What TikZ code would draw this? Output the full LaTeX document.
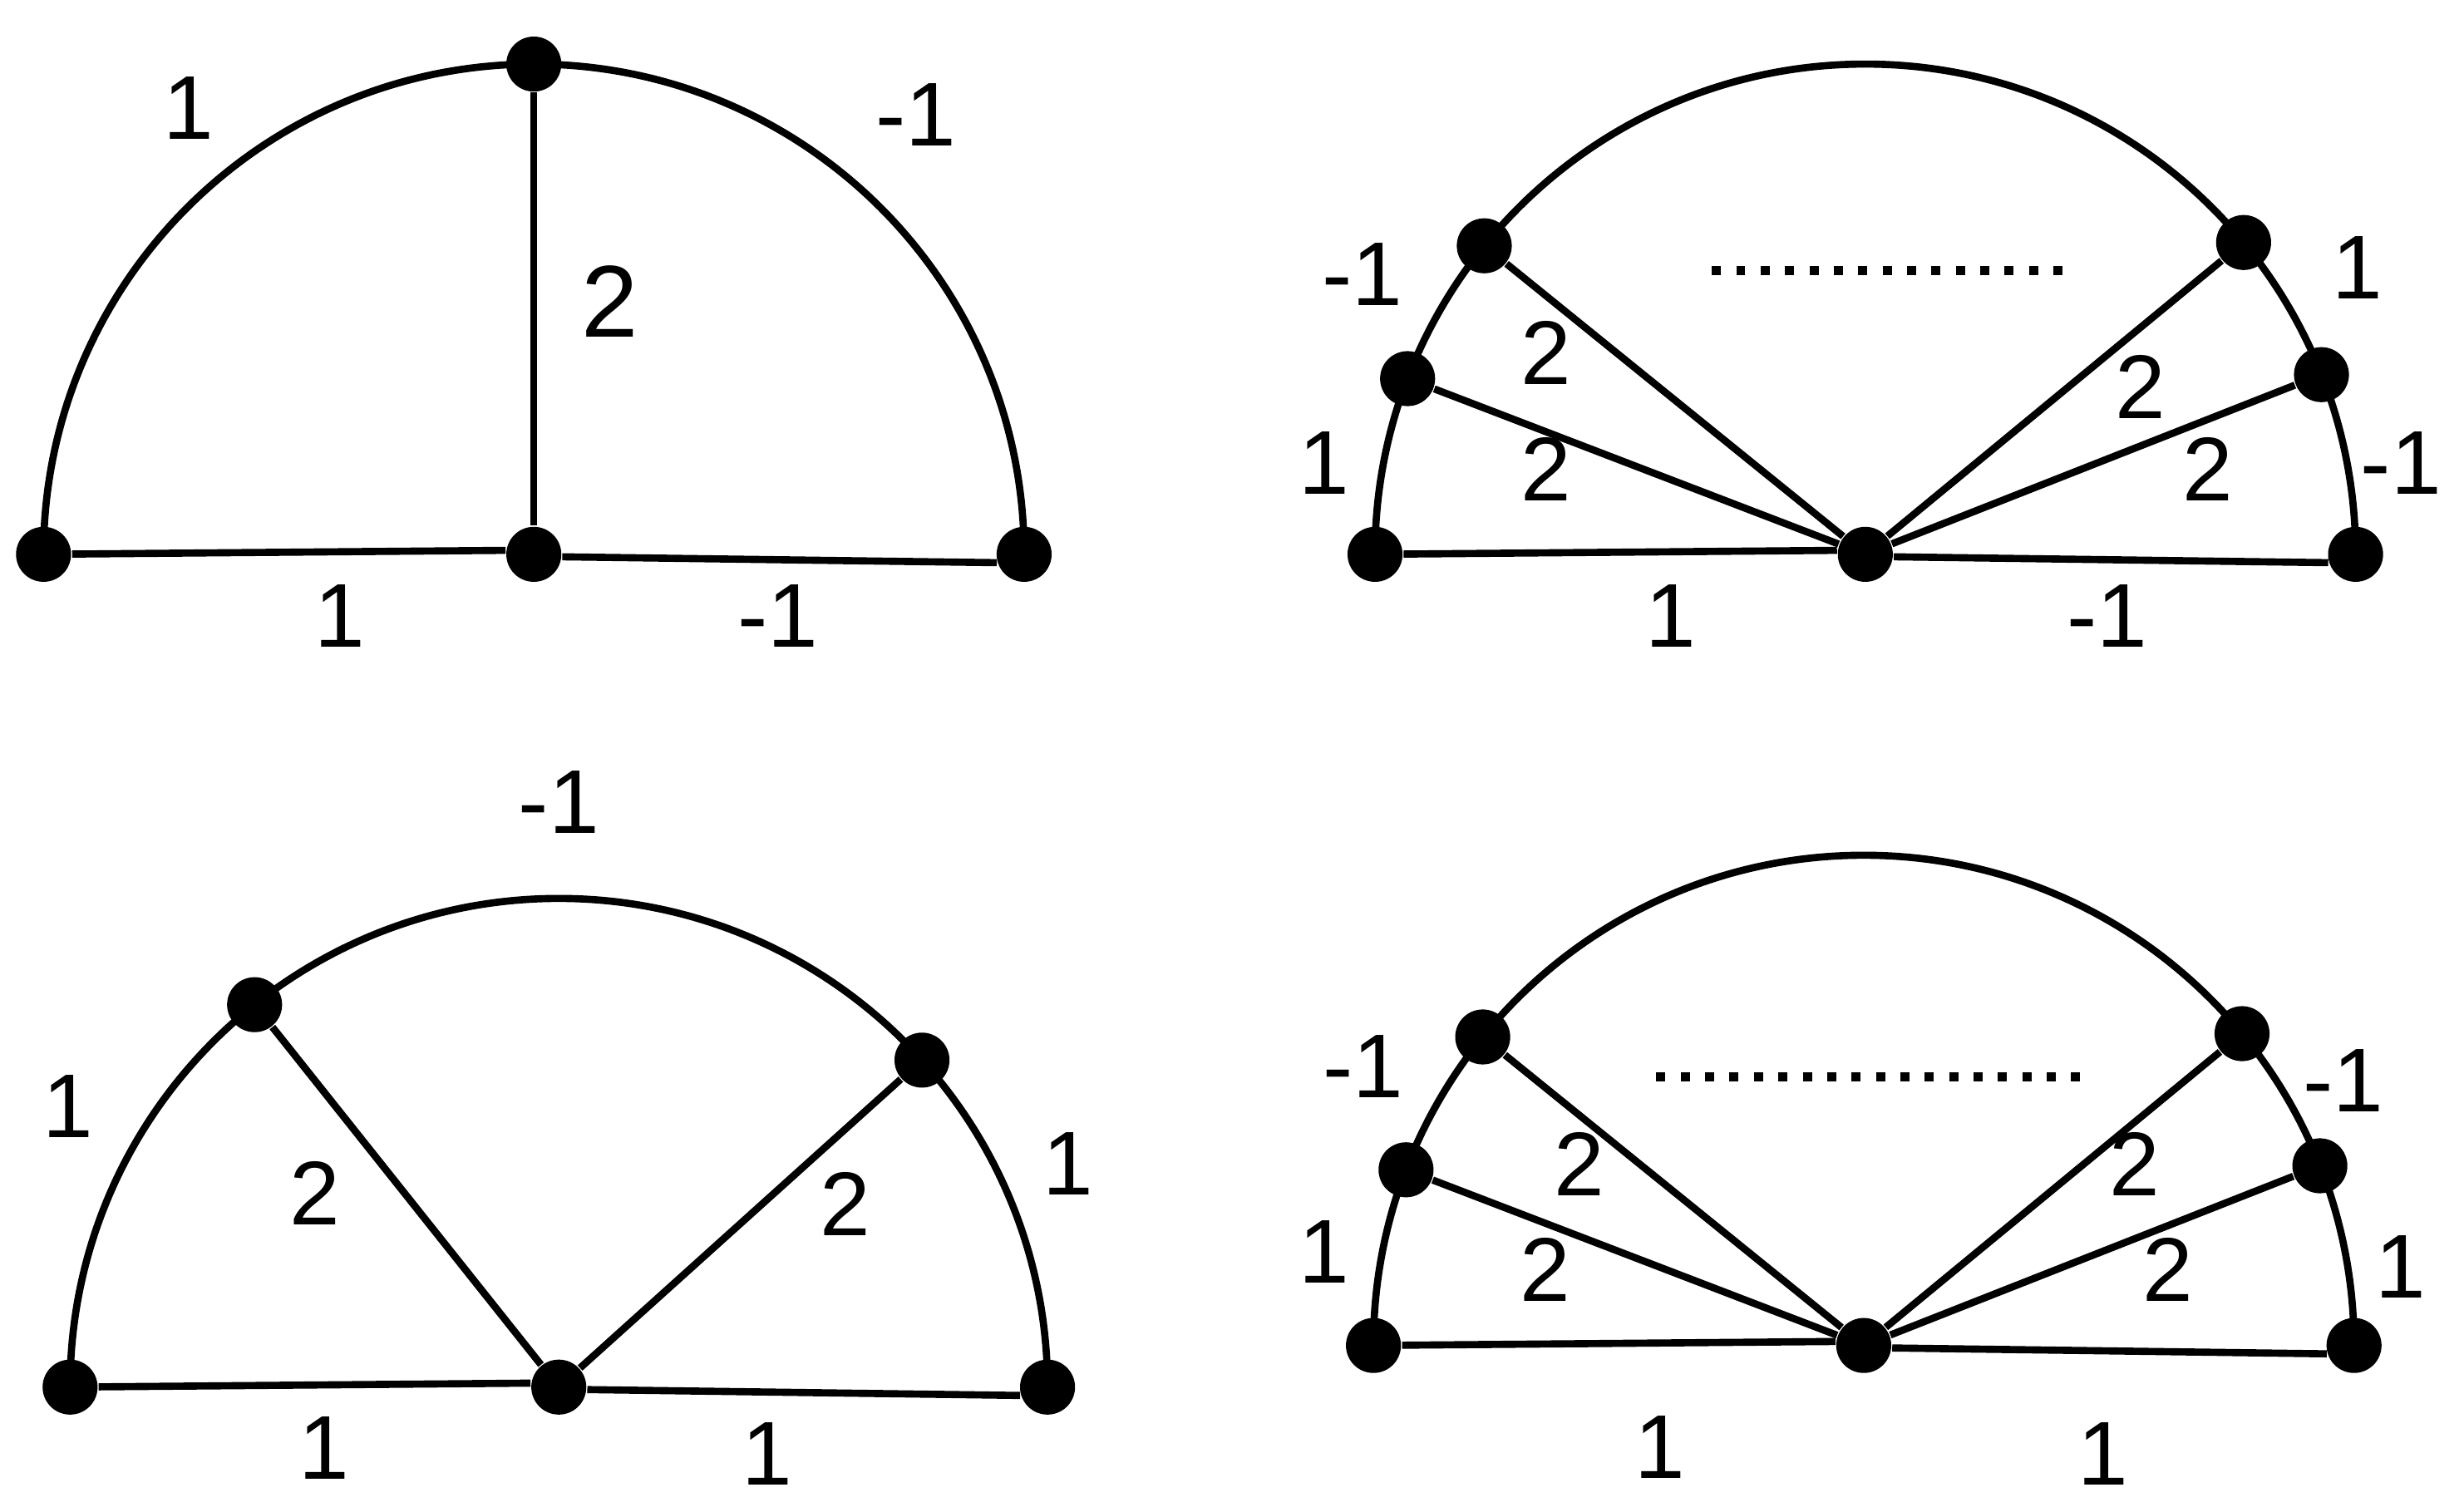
\documentclass[tikz,border=0pt]{standalone}
\usepackage{fontspec}
\setmainfont{Liberation Sans}
\tikzset{
  vtx/.style={circle, fill=black, inner sep=0pt, minimum size=0.35cm},
  link/.style={line width=1.3pt},
  lab/.style={font=\fontsize{16.4}{20}\selectfont, inner sep=0pt},
  biglab/.style={font=\fontsize{18.5}{22}\selectfont, inner sep=0pt},
  ellip/.style={line width=0.058cm, dash pattern=on 0.058cm off 0.0973cm}
}

\begin{document}
\begin{tikzpicture}
  \useasboundingbox (0,0) rectangle (15.68,9.62);

  % Top left: half disc with one chord
  \begin{scope}[shift={(3.397,6.092)}]
    \node[vtx] (a1) at (180:3.12) {};
    \node[vtx] (a2) at (0,0) {};
    \node[vtx] (a3) at (0:3.12) {};
    \node[vtx] (a4) at (90:3.12) {};
    \draw[link] (a1.center) arc[start angle=180, end angle=0, radius=3.12];
    \draw[link] (a1) -- (a2.172);
    \draw[link] (a2.355) -- (a3.197);
    \draw[link] (a2) -- (a4);
  \end{scope}
  \node[lab] (la1) at (1.20,8.931) {1};
  \node[lab] (la2) at (5.83,8.89) {-1};
  \node[biglab] (la3) at (3.88,7.70) {2};
  \node[lab] (la4) at (2.16,5.70) {1};
  \node[lab] (la5) at (4.95,5.70) {-1};

  % Top right: fan of chords
  \begin{scope}[shift={(11.87,6.092)}]
    \node[vtx] (b1) at (180:3.12) {};
    \node[vtx] (b2) at (0,0) {};
    \node[vtx] (b3) at (0:3.12) {};
    \node[vtx] (b4) at (159:3.12) {};
    \node[vtx] (b5) at (141:3.12) {};
    \node[vtx] (b6) at (39.5:3.12) {};
    \node[vtx] (b7) at (21.5:3.12) {};
    \draw[link] (b1.center) arc[start angle=180, end angle=0, radius=3.12];
    \draw[link] (b1) -- (b2.172);
    \draw[link] (b2.355) -- (b3.197);
    \draw[link] (b2) -- (b4);
    \draw[link] (b2) -- (b5);
    \draw[link] (b2) -- (b6);
    \draw[link] (b2) -- (b7);
  \end{scope}
  \draw[ellip] (10.893,7.897) -- (13.125,7.897);
  \node[lab] (lb1) at (8.67,7.874) {-1};
  \node[lab] (lb2) at (9.84,7.376) {2};
  \node[lab] (lb3) at (8.425,6.673) {1};
  \node[lab] (lb4) at (9.84,6.633) {2};
  \node[lab] (lb5) at (15.0,7.917) {1};
  \node[lab] (lb6) at (13.62,7.155) {2};
  \node[lab] (lb7) at (14.05,6.633) {2};
  \node[lab] (lb8) at (15.28,6.673) {-1};
  \node[lab] (lb9) at (10.63,5.70) {1};
  \node[lab] (lb10) at (13.41,5.70) {-1};

  % Bottom left: two chords
  \begin{scope}[shift={(3.556,0.792)}]
    \node[vtx] (c1) at (180:3.11) {};
    \node[vtx] (c2) at (0,0) {};
    \node[vtx] (c3) at (0:3.11) {};
    \node[vtx] (c4) at (128.5:3.11) {};
    \node[vtx] (c5) at (42:3.11) {};
    \draw[link] (c1.center) arc[start angle=180, end angle=0, radius=3.11];
    \draw[link] (c1) -- (c2.172);
    \draw[link] (c2.355) -- (c3.197);
    \draw[link] (c2) -- (c4);
    \draw[link] (c2) -- (c5);
  \end{scope}
  \node[lab] (lc1) at (3.556,4.517) {-1};
  \node[lab] (lc2) at (0.433,2.58) {1};
  \node[lab] (lc3) at (2.006,2.028) {2};
  \node[lab] (lc4) at (5.38,1.956) {2};
  \node[lab] (lc5) at (6.795,2.213) {1};
  \node[lab] (lc6) at (2.062,0.405) {1};
  \node[lab] (lc7) at (4.88,0.37) {1};

  % Bottom right: fan of chords again
  \begin{scope}[shift={(11.86,1.057)}]
    \node[vtx] (d1) at (180:3.12) {};
    \node[vtx] (d2) at (0,0) {};
    \node[vtx] (d3) at (0:3.12) {};
    \node[vtx] (d4) at (159:3.12) {};
    \node[vtx] (d5) at (141:3.12) {};
    \node[vtx] (d6) at (39.5:3.12) {};
    \node[vtx] (d7) at (21.5:3.12) {};
    \draw[link] (d1.center) arc[start angle=180, end angle=0, radius=3.12];
    \draw[link] (d1) -- (d2.172);
    \draw[link] (d2.355) -- (d3.197);
    \draw[link] (d2) -- (d4);
    \draw[link] (d2) -- (d5);
    \draw[link] (d2) -- (d6);
    \draw[link] (d2) -- (d7);
  \end{scope}
  \draw[ellip] (10.54,2.767) -- (13.238,2.767);
  \node[lab] (ld1) at (8.676,2.832) {-1};
  \node[lab] (ld2) at (10.048,2.21) {2};
  \node[lab] (ld3) at (8.424,1.653) {1};
  \node[lab] (ld4) at (9.834,1.542) {2};
  \node[lab] (ld5) at (14.91,2.745) {-1};
  \node[lab] (ld6) at (13.583,2.21) {2};
  \node[lab] (ld7) at (13.797,1.542) {2};
  \node[lab] (ld8) at (15.278,1.557) {1};
  \node[lab] (ld9) at (10.565,0.411) {1};
  \node[lab] (ld10) at (13.383,0.37) {1};
\end{tikzpicture}
\end{document}
